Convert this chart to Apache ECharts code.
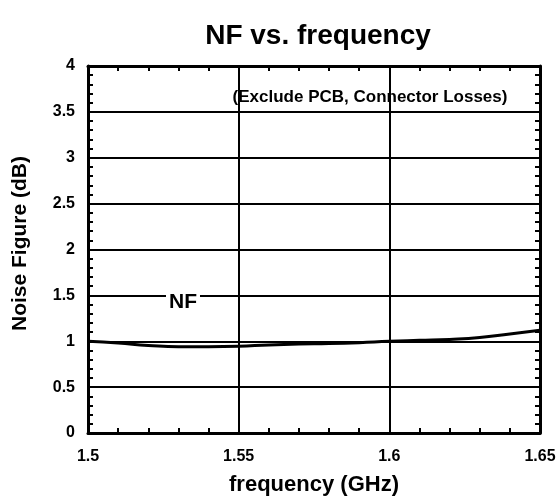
<!DOCTYPE html>
<html><head><meta charset="utf-8">
<script src="https://cdn.jsdelivr.net/npm/echarts@6/dist/echarts.min.js"></script>
<style>html,body{margin:0;padding:0;background:#fff}#c{width:559px;height:501px}</style>
</head><body><div id="c"></div>
<script>
var freq = [1.5, 1.51, 1.52, 1.53, 1.54, 1.55, 1.56, 1.57, 1.58, 1.59, 1.6, 1.61, 1.62, 1.63, 1.64, 1.65];
var nf = [1.0, 0.98, 0.955, 0.94, 0.94, 0.945, 0.96, 0.97, 0.975, 0.985, 1.0, 1.01, 1.02, 1.04, 1.08, 1.12];
var titleText = 'NF vs. frequency';
var xName = 'frequency (GHz)';
var yName = 'Noise Figure (dB)';
var noteText = '(Exclude PCB, Connector Losses)';
var seriesLabel = 'NF';

var F = 'Liberation Sans, Arial, sans-serif';
var chart = echarts.init(document.getElementById('c'));
var baseAxis = {
  axisLine: {show: true, onZero: false, lineStyle: {color: '#000', width: 3}},
  axisTick: {show: true, inside: true, length: 5, lineStyle: {color: '#000', width: 2}},
  minorTick: {show: true, splitNumber: 5, length: 5, lineStyle: {color: '#000', width: 2}},
  splitLine: {show: false},
  axisLabel: {show: false}
};
chart.setOption({
  animation: false,
  title: {text: titleText, left: 313, top: 17, textAlign: 'center',
    textStyle: {fontFamily: F, fontWeight: 'bold', fontSize: 28, color: '#000'}},
  grid: {left: 88, right: 19, top: 66, bottom: 68},
  xAxis: [
    Object.assign({}, baseAxis, {type: 'value', min: 1.5, max: 1.65, interval: 0.05, position: 'bottom',
      name: xName, nameLocation: 'middle', nameGap: 41,
      nameTextStyle: {fontFamily: F, fontWeight: 'bold', fontSize: 22, color: '#000'},
      splitLine: {show: true, lineStyle: {color: '#000', width: 2}},
      axisLabel: {show: true, margin: 16, fontFamily: F, fontWeight: 'bold', fontSize: 16, color: '#000',
        formatter: function (v) { return String(+v.toFixed(2)); }}}),
    Object.assign({}, baseAxis, {type: 'value', min: 1.5, max: 1.65, interval: 0.05, position: 'top'})
  ],
  yAxis: [
    Object.assign({}, baseAxis, {type: 'value', min: 0, max: 4, interval: 0.5, position: 'left',
      name: yName, nameLocation: 'middle', nameGap: 57,
      nameTextStyle: {fontFamily: F, fontWeight: 'bold', fontSize: 21, color: '#000', padding: [0, 0, 0, 12]},
      splitLine: {show: true, lineStyle: {color: '#000', width: 2}},
      axisLabel: {show: true, margin: 13, fontFamily: F, fontWeight: 'bold', fontSize: 16, color: '#000',
        formatter: function (v) { return String(+v.toFixed(1)); }}}),
    Object.assign({}, baseAxis, {type: 'value', min: 0, max: 4, interval: 0.5, position: 'right'})
  ],
  series: [{
    type: 'line', xAxisIndex: 0, yAxisIndex: 0, smooth: true, symbol: 'none',
    lineStyle: {color: '#000', width: 3},
    data: freq.map(function (f, i) { return [f, nf[i]]; })
  }],
  graphic: [
    {type: 'text', x: 370, y: 97, z: 100,
      style: {text: noteText, fontFamily: F, fontWeight: 'bold', fontSize: 17, fill: '#000',
        textAlign: 'center', textVerticalAlign: 'middle'}},
    {type: 'text', x: 183, y: 302, z: 100,
      style: {text: seriesLabel, fontFamily: F, fontWeight: 'bold', fontSize: 21, fill: '#000',
        textAlign: 'center', textVerticalAlign: 'middle',
        backgroundColor: '#fff', padding: [0, 3, 0, 3]}}
  ]
});
</script></body></html>
